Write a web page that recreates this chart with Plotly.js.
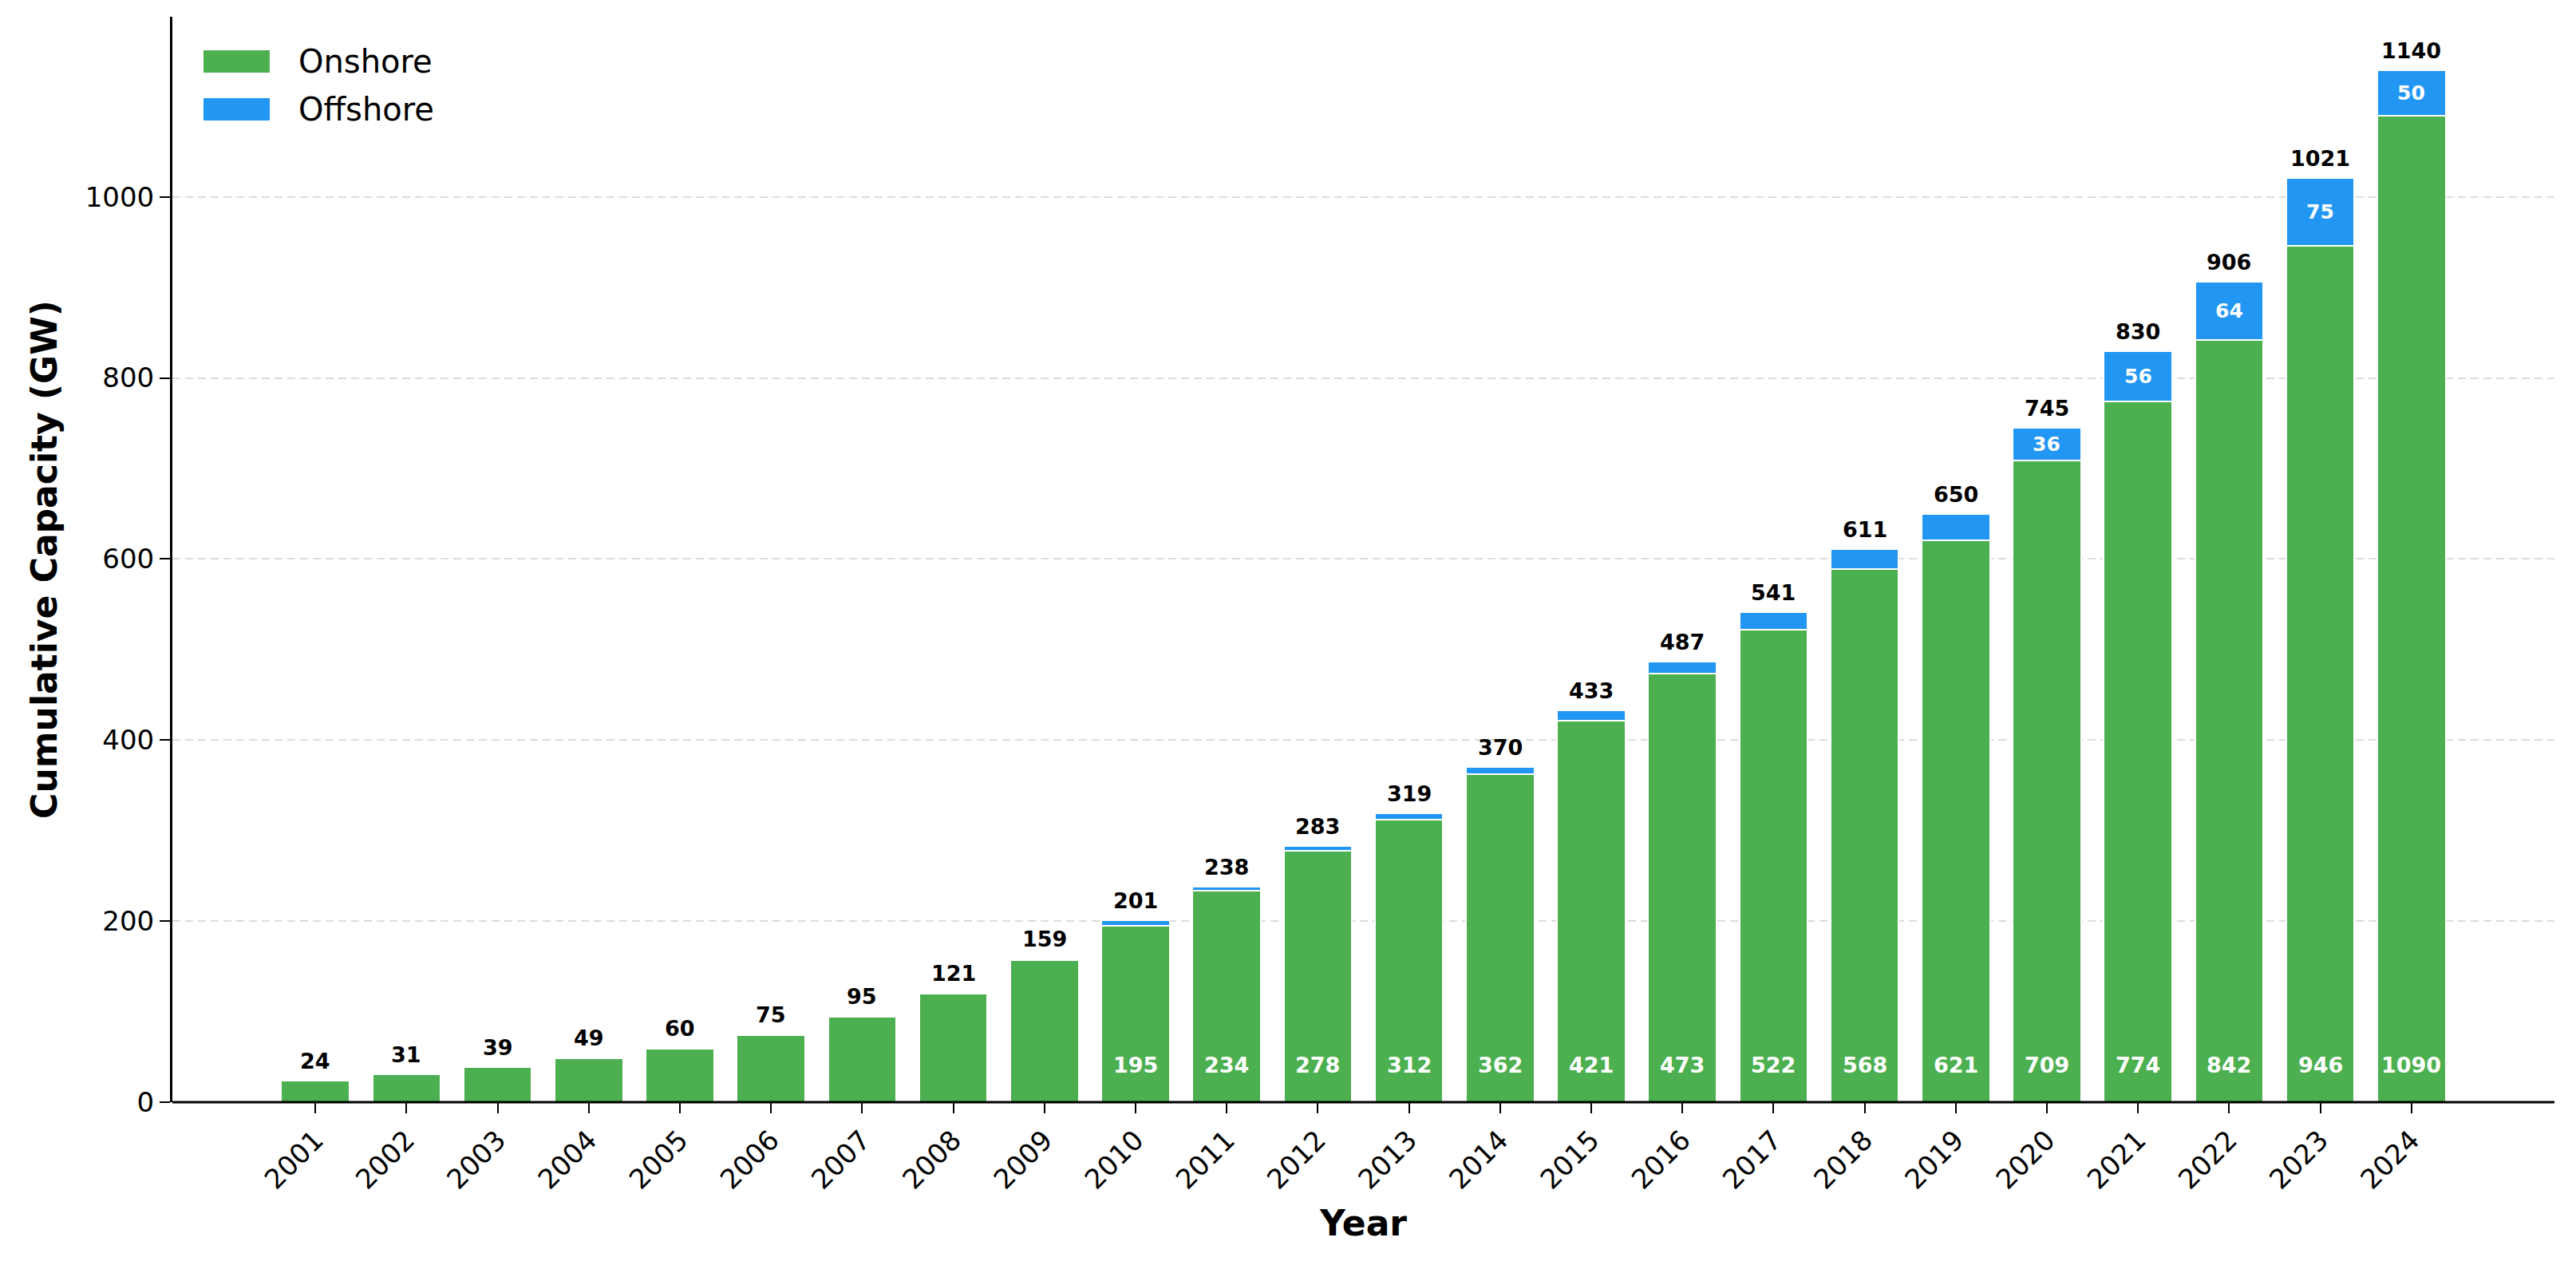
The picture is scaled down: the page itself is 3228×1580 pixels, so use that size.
<!DOCTYPE html>
<html>
<head>
<meta charset="utf-8">
<script src="https://cdn.plot.ly/plotly-3.0.1.min.js"></script>
<style>html,body{margin:0;padding:0;background:#fff;overflow:hidden;}#chart{width:3228px;height:1580px;}</style>
</head>
<body>
<div id="chart"></div>
<script>
const years = ['2001','2002','2003','2004','2005','2006','2007','2008','2009','2010','2011','2012','2013','2014','2015','2016','2017','2018','2019','2020','2021','2022','2023','2024'];
const onshore = [23.9, 30.7, 38.5, 48.4, 59.3, 74.1, 93.9, 119.5, 156.9, 195, 234, 278, 312, 362, 421, 473, 522, 589, 621, 709, 774, 842, 946, 1090];
const offshore = [0.1, 0.3, 0.5, 0.6, 0.7, 0.9, 1.1, 1.5, 2.1, 6, 4, 5, 7, 8, 12, 14, 19, 22, 29, 36, 56, 64, 75, 50];
const totalLabels = ['24','31','39','49','60','75','95','121','159','201','238','283','319','370','433','487','541','611','650','745','830','906','1021','1140'];
const onshoreLabels = ['','','','','','','','','','195','234','278','312','362','421','473','522','568','621','709','774','842','946','1090'];
const offshoreLabels = ['','','','','','','','','','','','','','','','','','','','36','56','64','75','50'];
const yTicks = [0, 200, 400, 600, 800, 1000];
</script>
<script>
const totals = onshore.map((v, i) => v + offshore[i]);
const green = '#4CAF50', blue = '#2196F3';
const font = 'DejaVu Sans, Verdana, sans-serif';

const traces = [
  {type:'bar', x: years, y: onshore, name:'Onshore', width:0.75,
   marker:{color:green, line:{color:'#ffffff', width:2}}},
  {type:'bar', x: years, y: offshore, name:'Offshore', width:0.75,
   marker:{color:blue, line:{color:'#ffffff', width:2}}}
];

const annotations = [];
years.forEach((yr, i) => {
  annotations.push({x: i, y: totals[i], xref:'x', yref:'y', text: '<b>' + totalLabels[i] + '</b>',
    showarrow:false, yanchor:'bottom', yshift:7, font:{family:font, size:27, color:'#000000'}});
  if (onshoreLabels[i]) {
    annotations.push({x: i, y: 0, xref:'x', yref:'y', text: '<b>' + onshoreLabels[i] + '</b>',
      showarrow:false, yanchor:'middle', yshift:47, font:{family:font, size:27, color:'#ffffff'}});
  }
  if (offshoreLabels[i]) {
    annotations.push({x: i, y: onshore[i] + offshore[i]/2, xref:'x', yref:'y', text: '<b>' + offshoreLabels[i] + '</b>',
      showarrow:false, yanchor:'middle', font:{family:font, size:25, color:'#ffffff'}});
  }
});

const L = 216, R = 27, T = 21, B = 199;
const PW = 3228 - L - R, PH = 1580 - T - B;
const legendItems = [{name:'Onshore', color:green, y:77}, {name:'Offshore', color:blue, y:137}];
const shapes = [];
legendItems.forEach(it => {
  shapes.push({type:'rect', xref:'paper', yref:'paper',
    x0:(255-L)/PW, x1:(338-L)/PW,
    y0:1-(it.y+14-T)/PH, y1:1-(it.y-14-T)/PH,
    fillcolor:it.color, line:{width:0}});
  annotations.push({xref:'paper', yref:'paper', x:(372-L)/PW, y:1-(it.y-T)/PH,
    xanchor:'left', yanchor:'middle', text:it.name, showarrow:false,
    font:{family:font, size:40, color:'#000000'}});
});
// baseline spine drawn across the full plot width
shapes.push({type:'line', xref:'paper', yref:'paper', x0:0, x1:1, y0:0, y1:0, line:{color:'#000', width:3}});

const layout = {
  width:3228, height:1580,
  margin:{l:L, r:R, t:T, b:B, autoexpand:false},
  paper_bgcolor:'#fff', plot_bgcolor:'#fff',
  barmode:'stack',
  showlegend:false,
  font:{family:font, color:'#000'},
  xaxis:{type:'category', range:[-1.57, 24.57], automargin:false,
    showline:false,
    ticks:'outside', ticklen:13, tickwidth:2, tickcolor:'#000',
    tickangle:-45, tickfont:{family:font, size:34, color:'#000'},
    showgrid:false, zeroline:false,
    title:{text:'<b>Year</b>', font:{family:font, size:44, color:'#000'}, standoff:20}},
  yaxis:{range:[0, 1199], tickvals:yTicks, ticktext:yTicks.map(String), automargin:false,
    showline:true, linecolor:'#000', linewidth:3,
    ticks:'outside', ticklen:13, tickwidth:2, tickcolor:'#000',
    tickfont:{family:font, size:34, color:'#000'},
    showgrid:true, gridcolor:'rgba(140,140,140,0.3)', gridwidth:2, griddash:'10px,6px',
    zeroline:false, layer:'above traces',
    title:{text:'<b>Cumulative Capacity (GW)</b>', font:{family:font, size:44, color:'#000'}, standoff:22}},
  annotations: annotations,
  shapes: shapes
};

Plotly.newPlot('chart', traces, layout, {displayModeBar:false, staticPlot:true});
</script>
</body>
</html>
